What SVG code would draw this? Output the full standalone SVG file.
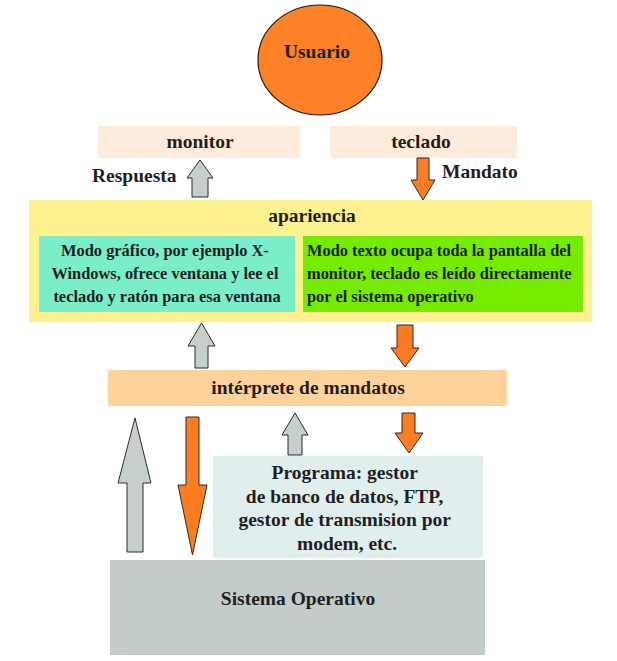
<svg xmlns="http://www.w3.org/2000/svg" width="617" height="661" viewBox="0 0 617 661">
  <style>
    .t { font-family: "Liberation Serif", "Times New Roman", serif; font-weight: bold; fill: #1f1f1f; }
    .lg { font-size: 19.5px; }
    .sm { font-size: 16.4px; }
    .up { fill: #c4cfce; stroke: #2b2b2b; stroke-width: 1; }
    .dn { fill: #fb7d22; stroke: #2b2b2b; stroke-width: 1; }
  </style>
  <rect width="617" height="661" fill="#ffffff"/>

  <g id="usuario">
    <ellipse cx="320" cy="60" rx="62" ry="55" fill="#fc8127" stroke="#1a1a1a" stroke-width="1.2"/>
    <text class="t lg" x="317" y="58" text-anchor="middle">Usuario</text>
  </g>

  <g id="monitor">
    <rect x="98" y="126" width="202" height="32" fill="#fdebdb"/>
    <text class="t lg" x="200" y="148" text-anchor="middle">monitor</text>
  </g>

  <g id="teclado">
    <rect x="330" y="126" width="187" height="32" fill="#fdebdb"/>
    <text class="t lg" x="421" y="148" text-anchor="middle">teclado</text>
  </g>

  <g id="apariencia">
    <rect x="29" y="200" width="563" height="122" fill="#fef290"/>
    <text class="t lg" x="312" y="222" text-anchor="middle">apariencia</text>
  </g>

  <g id="modo-grafico">
    <rect x="39" y="236" width="256" height="76" fill="#79eec8"/>
    <text class="t sm" text-anchor="middle">
      <tspan x="167" y="256">Modo gráfico, por ejemplo X-</tspan>
      <tspan x="167" y="279">Windows, ofrece ventana y lee el</tspan>
      <tspan x="167" y="302">teclado y ratón para esa ventana</tspan>
    </text>
  </g>

  <g id="modo-texto">
    <rect x="303" y="236" width="280" height="76" fill="#75eb00"/>
    <text class="t sm">
      <tspan x="307" y="256">Modo texto ocupa toda la pantalla del</tspan>
      <tspan x="307" y="279">monitor, teclado es leído directamente</tspan>
      <tspan x="307" y="302">por el sistema operativo</tspan>
    </text>
  </g>

  <g id="interprete">
    <rect x="108" y="370" width="399" height="36" fill="#fdd39b"/>
    <text class="t lg" x="308" y="394" text-anchor="middle">intérprete de mandatos</text>
  </g>

  <g id="programa">
    <rect x="213" y="456" width="270" height="102" fill="#e1eeee"/>
    <text class="t lg" text-anchor="middle">
      <tspan x="347" y="479">Programa: gestor</tspan>
      <tspan x="347" y="503">de banco de datos, FTP,</tspan>
      <tspan x="347" y="526">gestor de transmision por</tspan>
      <tspan x="347" y="550">modem, etc.</tspan>
    </text>
  </g>

  <g id="sistema-operativo">
    <rect x="110" y="560" width="375" height="95" fill="#c3cccb"/>
    <text class="t lg" x="298" y="605" text-anchor="middle">Sistema Operativo</text>
  </g>

  <g id="connectors">
    <!-- Respuesta: apariencia up to monitor -->
    <polygon class="up" points="200,160 213,178 208,178 208,197 192,197 192,178 187,178"/>
    <text class="t lg" x="92" y="182">Respuesta</text>
    <!-- Mandato: teclado down to apariencia -->
    <polygon class="dn" points="417,158 429,158 429,180 435,180 423,200 411,180 417,180"/>
    <text class="t lg" x="442" y="178">Mandato</text>
    <!-- intérprete <-> apariencia -->
    <polygon class="up" points="201.5,323 215,346 208,346 208,368 195,368 195,346 188,346"/>
    <polygon class="dn" points="397,325 413,325 413,348 419,348 405,367 391,348 397,348"/>
    <!-- sistema operativo <-> intérprete -->
    <polygon class="up" points="135,418 151,483 143,483 143,552 127,552 127,483 118,483"/>
    <polygon class="dn" points="186,417 199,417 199,485 207,485 192.5,555 178,485 186,485"/>
    <!-- programa <-> intérprete -->
    <polygon class="up" points="295,413 308,435 302,435 302,455 288,455 288,435 282,435"/>
    <polygon class="dn" points="402,413 415,413 415,433 423,433 409,453 395,433 402,433"/>
  </g>
</svg>
